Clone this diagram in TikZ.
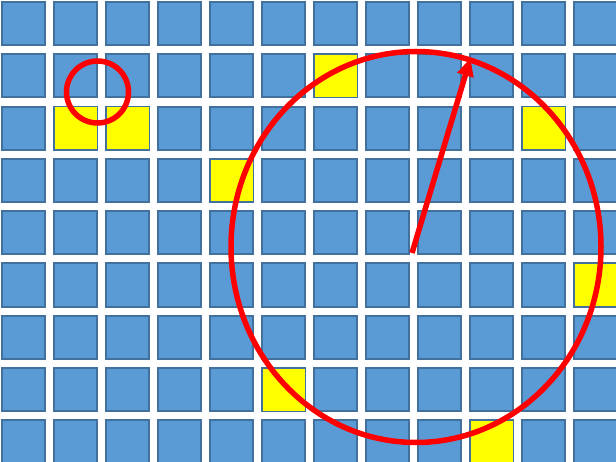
\documentclass[tikz,border=0pt]{standalone}
\usepackage{tikz}
\usetikzlibrary{arrows.meta}
\definecolor{cellblue}{HTML}{5B9BD5}
\definecolor{celledge}{HTML}{41719C}
\definecolor{hityellow}{HTML}{FFFF00}

\begin{document}
\begin{tikzpicture}[
  x=1pt, y=-1pt,
  cell/.style={draw=celledge, line width=2pt, fill=cellblue},
  hit/.style={draw=celledge, line width=0.9pt, fill=hityellow},
  ring/.style={draw=red, line width=5.5pt},
  ax/.style={-{Triangle[length=18pt, width=16pt]}, draw=red, line width=5.5pt}
]
\useasboundingbox (0,0) rectangle (616,462);

% ---- the grid of cells, 12 columns by 9 rows
\foreach \i in {0,...,11}
  \foreach \j in {0,...,8}
    \path[cell] ({2+52*\i},{2+52.3*\j}) rectangle ++(43.2,43.2);

% ---- the marked cells
\foreach \i/\j in {6/1, 1/2, 2/2, 10/2, 4/3, 11/5, 5/7, 9/8}
  \path[hit] ({2.2+52*\i},{2.2+52.3*\j}) rectangle ++(42.8,42.8);

% ---- small and large neighbourhood
\coordinate (small) at (97.5,92);
\coordinate (big)   at (416,247);
\draw[ring] (small) circle[radius=31pt];
\draw[ring] (big) ellipse[x radius=185pt, y radius=195.5pt];

% ---- the radius
\coordinate (from) at (412,253);
\coordinate (to)   at (470.5,58);
\draw[ax] (from) -- (to);

\end{tikzpicture}
\end{document}
